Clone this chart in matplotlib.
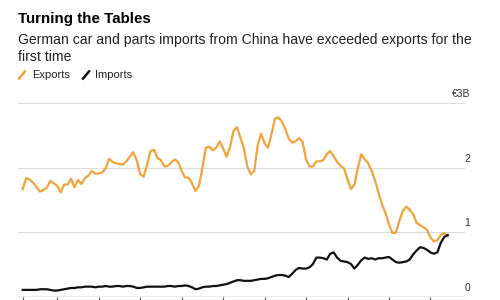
import matplotlib
matplotlib.use("Agg")
import matplotlib.pyplot as plt
from matplotlib.lines import Line2D
import numpy as np
import pandas as pd

plt.rcParams['font.family'] = ['Liberation Sans', 'DejaVu Sans']

title = "Turning the Tables"
subtitle_lines = ["German car and parts imports from China have exceeded exports for the",
                  "first time"]
series_names = ["Exports", "Imports"]
start_month = "2014-03"

exports = [1.67, 1.84, 1.82, 1.77, 1.70, 1.63, 1.66, 1.69, 1.80, 1.76,
           1.72, 1.62, 1.74, 1.74, 1.83, 1.70, 1.81, 1.75, 1.84, 1.88,
           1.95, 1.91, 1.91, 1.93, 1.99, 2.14, 2.09, 2.07, 2.06, 2.05,
           2.10, 2.17, 2.24, 2.12, 1.90, 1.86, 2.05, 2.26, 2.28, 2.15,
           2.12, 2.02, 2.03, 2.08, 2.13, 2.09, 1.95, 1.85, 1.85, 1.76,
           1.64, 1.72, 2.00, 2.31, 2.33, 2.27, 2.31, 2.41, 2.30, 2.17,
           2.32, 2.57, 2.63, 2.47, 2.30, 2.02, 1.90, 1.95, 2.35, 2.53,
           2.38, 2.31, 2.52, 2.76, 2.78, 2.72, 2.60, 2.45, 2.39, 2.41,
           2.46, 2.40, 2.13, 2.02, 2.02, 2.10, 2.10, 2.12, 2.21, 2.26,
           2.18, 2.09, 2.03, 1.99, 1.82, 1.67, 1.74, 2.00, 2.21, 2.13,
           2.07, 1.95, 1.80, 1.61, 1.43, 1.30, 1.12, 0.99, 1.00, 1.18,
           1.33, 1.40, 1.35, 1.28, 1.15, 1.11, 1.08, 1.04, 0.92, 0.86,
           0.88, 0.96, 0.99, 0.94]

imports = [0.11, 0.11, 0.11, 0.11, 0.11, 0.12, 0.12, 0.12, 0.11, 0.10,
           0.10, 0.11, 0.12, 0.13, 0.14, 0.14, 0.15, 0.15, 0.16, 0.16,
           0.16, 0.15, 0.16, 0.16, 0.17, 0.16, 0.16, 0.17, 0.17, 0.16,
           0.17, 0.17, 0.16, 0.14, 0.14, 0.15, 0.16, 0.16, 0.16, 0.16,
           0.16, 0.16, 0.17, 0.17, 0.16, 0.17, 0.17, 0.18, 0.17, 0.15,
           0.12, 0.13, 0.15, 0.16, 0.16, 0.17, 0.17, 0.18, 0.19, 0.20,
           0.22, 0.24, 0.26, 0.26, 0.25, 0.25, 0.25, 0.26, 0.27, 0.28,
           0.28, 0.29, 0.31, 0.33, 0.34, 0.34, 0.33, 0.31, 0.36, 0.42,
           0.45, 0.44, 0.44, 0.46, 0.51, 0.61, 0.61, 0.60, 0.58, 0.67,
           0.69, 0.61, 0.56, 0.55, 0.54, 0.51, 0.44, 0.50, 0.57, 0.61,
           0.59, 0.60, 0.58, 0.60, 0.60, 0.61, 0.62, 0.58, 0.54, 0.53,
           0.54, 0.55, 0.58, 0.66, 0.72, 0.77, 0.76, 0.73, 0.69, 0.67,
           0.69, 0.84, 0.93, 0.96]

y_ticks = [0, 1, 2, 3]
y_tick_labels = ["0", "1", "2", "€3B"]

ORANGE = "#f2a33a"
BLACK = "#111111"

dates = pd.date_range(start_month, periods=len(exports), freq="MS")
x = np.arange(len(exports))
year_starts = [i for i, d in enumerate(dates) if d.month == 1]
xticks = [0] + year_starts

fig = plt.figure(figsize=(5, 3), dpi=100)
ax = fig.add_axes([0.036, 0.01, 0.894, 0.646])

ax.plot(x, exports, color=ORANGE, lw=1.6, solid_joinstyle="round", zorder=3)
ax.plot(x, imports, color=BLACK, lw=1.6, solid_joinstyle="round", zorder=4)

ax.set_ylim(0, 3)
ax.set_xlim(-1.36, len(exports) - 1 + 5.0)

for v in y_ticks[1:]:
    ax.axhline(v, color="#dcdcdc", lw=0.8, zorder=1)
ax.axhline(0, color="#555555", lw=0.9, zorder=2)

for s in ax.spines.values():
    s.set_visible(False)
ax.set_yticks([])
ax.set_xticks(xticks)
ax.set_xticklabels([])
ax.tick_params(axis="x", length=4, width=0.8, color="#555555", direction="out")

for v, lab in zip(y_ticks, y_tick_labels):
    ax.annotate(lab, xy=(1.012, v), xycoords=("axes fraction", "data"),
                xytext=(0, 3), textcoords="offset points",
                ha="right", va="bottom", fontsize=7.5, color="#333333")

fig.text(0.036, 0.923, title, fontsize=10.9, fontweight="bold", color="#000000",
         ha="left", va="baseline")
fig.text(0.036, 0.853, subtitle_lines[0], fontsize=10.1, color="#222222",
         ha="left", va="baseline")
fig.text(0.036, 0.797, subtitle_lines[1], fontsize=10.1, color="#222222",
         ha="left", va="baseline")

# legend
leg_y = 0.75
fig.add_artist(Line2D([0.038, 0.05], [leg_y - 0.012, leg_y + 0.012],
                      transform=fig.transFigure, color=ORANGE, lw=1.8))
fig.text(0.064, leg_y, series_names[0], fontsize=8, color="#222222",
         ha="left", va="center")
fig.add_artist(Line2D([0.166, 0.178], [leg_y - 0.012, leg_y + 0.012],
                      transform=fig.transFigure, color=BLACK, lw=1.8))
fig.text(0.19, leg_y, series_names[1], fontsize=8, color="#222222",
         ha="left", va="center")

fig.savefig("out.png", dpi=100, facecolor="white")
